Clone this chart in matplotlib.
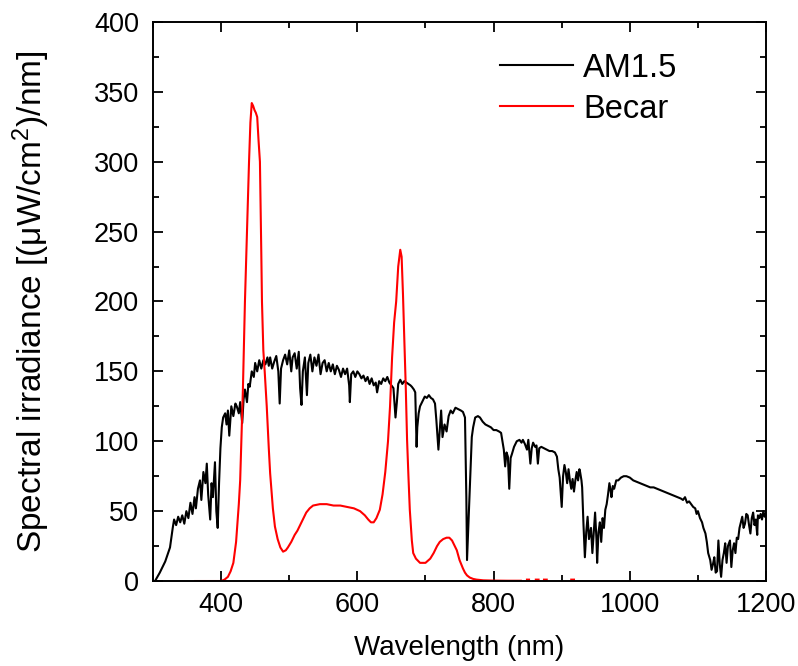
import numpy as np
import matplotlib
matplotlib.use("Agg")
import matplotlib.pyplot as plt
from matplotlib.ticker import MultipleLocator

plt.rcParams['font.family'] = ['Liberation Sans', 'DejaVu Sans']
plt.rcParams['mathtext.fontset'] = 'custom'
plt.rcParams['mathtext.rm'] = 'Liberation Sans'
plt.rcParams['mathtext.it'] = 'Liberation Sans:italic'

# AM1.5 spectrum (nm, uW/cm2/nm)
am_wl = [303, 310, 318, 325, 329, 331, 334, 337, 340, 343, 346, 349, 352, 355, 358, 361, 363, 366,
         369, 371, 374, 377, 379, 381, 384, 386, 388, 391, 393, 395, 397, 399, 401, 403, 406, 408,
         410, 412, 415, 418, 421, 423, 426, 428, 431, 433, 435, 438, 440, 442, 445, 448, 450, 453,
         456, 459, 462, 465, 468, 470, 472, 475, 478, 481, 484, 486, 488, 491, 494, 497, 500, 503,
         505, 508, 511, 514, 516, 518, 520, 523, 526, 528, 531, 534, 537, 540, 543, 546, 549, 552,
         555, 558, 561, 564, 567, 570, 573, 576, 579, 582, 585, 588, 589, 591, 594, 597, 600, 603,
         606, 609, 612, 615, 618, 621, 624, 627, 629, 632, 635, 638, 641, 644, 647, 650, 653, 656,
         658, 660, 663, 666, 669, 672, 675, 678, 680, 683, 685, 687, 688, 690, 692, 695, 699, 702,
         705, 708, 711, 714, 716, 719, 721, 723, 725, 728, 731, 734, 737, 740, 744, 748, 752, 755,
         758, 760, 761, 763, 765, 767, 768, 770, 773, 777, 780, 784, 788, 792, 796, 800, 804, 808,
         811, 813, 815, 817, 819, 821, 823, 825, 827, 830, 834, 838, 841, 843, 846, 849, 851, 854,
         856, 858, 861, 863, 865, 867, 870, 874, 878, 882, 886, 890, 893, 895, 897, 898, 900, 902,
         904, 906, 908, 910, 912, 914, 916, 918, 920, 922, 924, 926, 927, 929, 930, 932, 934, 936,
         938, 940, 943, 945, 947, 949, 951, 952, 954, 956, 958, 960, 962, 964, 966, 968, 970, 972,
         973, 975, 977, 980, 983, 987, 991, 995, 1000, 1005, 1010, 1015, 1020, 1025, 1030, 1035,
         1040, 1045, 1050, 1055, 1060, 1065, 1070, 1075, 1078, 1081, 1084, 1087, 1090, 1093, 1096,
         1098, 1100, 1103, 1106, 1108, 1111, 1113, 1115, 1118, 1120, 1122, 1124, 1126, 1128, 1130,
         1132, 1134, 1136, 1138, 1140, 1142, 1144, 1147, 1149, 1151, 1153, 1155, 1157, 1159, 1161,
         1163, 1165, 1167, 1169, 1171, 1173, 1175, 1177, 1179, 1181, 1183, 1185, 1187, 1188, 1190,
         1192, 1194, 1196, 1198, 1200]
am_val = [0, 6, 14, 24, 38, 44, 40, 46, 42, 47, 41, 50, 45, 56, 48, 60, 52, 66,
          72, 58, 78, 70, 84, 62, 44, 70, 60, 85, 50, 38, 70, 95, 110, 117, 120, 112,
          122, 104, 125, 118, 127, 125, 120, 128, 113, 130, 137, 128, 141, 139, 150, 146, 156, 150,
          158, 152, 158, 155, 160, 154, 160, 152, 157, 161, 150, 127, 152, 158, 162, 155, 165, 150,
          160, 163, 152, 164, 138, 126, 150, 160, 133, 156, 162, 150, 160, 154, 162, 148, 156, 158,
          150, 156, 150, 155, 148, 154, 151, 146, 152, 148, 152, 140, 128, 148, 150, 146, 150, 148,
          145, 147, 143, 146, 141, 145, 140, 142, 135, 143, 141, 145, 143, 146, 142, 140, 138, 117,
          128, 141, 144, 141, 143, 142, 141, 140, 139, 137, 135, 96, 110, 120, 125, 128, 132, 131,
          133, 131, 130, 127, 115, 94, 108, 122, 103, 112, 107, 118, 122, 120, 124, 123, 122, 121,
          117, 60, 15, 40, 67, 90, 103, 110, 117, 118, 117, 114, 112, 111, 110, 108, 108, 107,
          106, 100, 94, 82, 92, 89, 66, 88, 91, 96, 100, 101, 99, 101, 98, 94, 101, 84,
          95, 99, 96, 97, 84, 95, 96, 95, 94, 93, 93, 92, 89, 80, 74, 67, 53, 75,
          83, 78, 70, 80, 72, 66, 73, 64, 72, 78, 72, 80, 78, 72, 67, 40, 17, 35,
          46, 30, 38, 20, 35, 49, 30, 13, 35, 42, 28, 45, 38, 51, 55, 62, 70, 64,
          60, 68, 66, 72, 72, 74, 75, 75, 74, 72, 71, 70, 69, 68, 67, 67,
          66, 65, 64, 63, 62, 61, 60, 59, 58, 60, 56, 57, 55, 53, 52,
          48, 50, 45, 42, 38, 34, 28, 20, 15, 8, 12, 17, 6, 7, 29,
          12, 3, 15, 20, 27, 13, 25, 29, 10, 22, 27, 20, 31, 30, 38,
          42, 46, 38, 41, 48, 47, 40, 34, 45, 49, 40, 44, 33, 47, 45,
          48, 44, 50, 46, 49]

# Becar lamp spectrum
becar_wl = [362, 380, 400, 405, 410, 414, 418, 422, 426, 428, 432, 435, 438, 441, 443, 445, 447,
            449, 451, 453, 455, 457, 459, 460, 462, 464, 467, 470, 472, 476, 479, 483, 487, 491,
            495, 498, 503, 508, 512, 516, 520, 525, 530, 535, 545, 555, 565, 575, 585, 595, 604,
            611, 616, 620, 624, 628, 633, 637, 641, 645, 648, 651, 654, 657, 660, 663, 665, 667,
            669, 671, 673, 675, 677, 680, 682, 686, 692, 700, 707, 712, 717, 721, 726, 731, 735,
            739, 743, 746, 750, 755, 758, 761, 765, 770, 775, 785, 800, 820, 840,
            845, 849, 852, 858, 862, 866, 870, 874, 878, 910, 914, 918, 924, 927]
becar_val = [0, 0, 0, 1, 3, 7, 13, 28, 55, 72, 137, 200, 250, 300, 328, 342, 340,
             337, 335, 332, 315, 300, 235, 200, 165, 150, 125, 95, 77, 52, 39, 30, 24, 21,
             22, 24, 28, 33, 36, 40, 44, 49, 52, 54, 55, 55, 54, 54, 53, 52, 50,
             47, 44, 42, 42, 45, 51, 62, 78, 100, 125, 160, 185, 200, 225, 237, 232, 205,
             172, 140, 101, 75, 51, 29, 20, 16, 13, 13, 16, 20, 25, 28, 30, 31, 31,
             29, 25, 22, 15, 9, 6, 4, 2.5, 1.5, 1, 0.5, 0.3, 0.2, 0.2,
             np.nan, 1, 1, np.nan, 1, 1, np.nan, 1, 1, np.nan, 1, 1, np.nan, 1]

fig = plt.figure(figsize=(7.98, 6.66), dpi=100)
ax = fig.add_axes([0.1917, 0.1276, 0.7683, 0.8394])

ax.plot(am_wl, am_val, color='black', lw=1.5, label='AM1.5')
ax.plot(becar_wl, becar_val, color='red', lw=1.5, label='Becar')

ax.set_xlim(300, 1200)
ax.set_ylim(0, 400)
ax.xaxis.set_major_locator(MultipleLocator(200))
ax.xaxis.set_minor_locator(MultipleLocator(100))
ax.yaxis.set_major_locator(MultipleLocator(50))
ax.yaxis.set_minor_locator(MultipleLocator(25))
ax.tick_params(which='both', direction='in', top=True, right=True, labelsize=19.5, width=1.3)
ax.tick_params(which='major', length=7)
ax.tick_params(which='minor', length=4)
ax.tick_params(axis='x', pad=8)
ax.tick_params(axis='y', pad=10)
for s in ax.spines.values():
    s.set_linewidth(1.4)

ax.set_xlabel('Wavelength (nm)', fontsize=20, labelpad=12)
ax.set_ylabel('Spectral irradiance [(\u03bcW/cm$^2$)/nm]', fontsize=24, labelpad=30)

ax.legend(loc='upper left', bbox_to_anchor=(0.566, 0.945), frameon=False, fontsize=23.5,
          handlelength=2.25, handletextpad=0.3, borderpad=0, borderaxespad=0, labelspacing=0.3)

fig.savefig('out.png', dpi=100)
